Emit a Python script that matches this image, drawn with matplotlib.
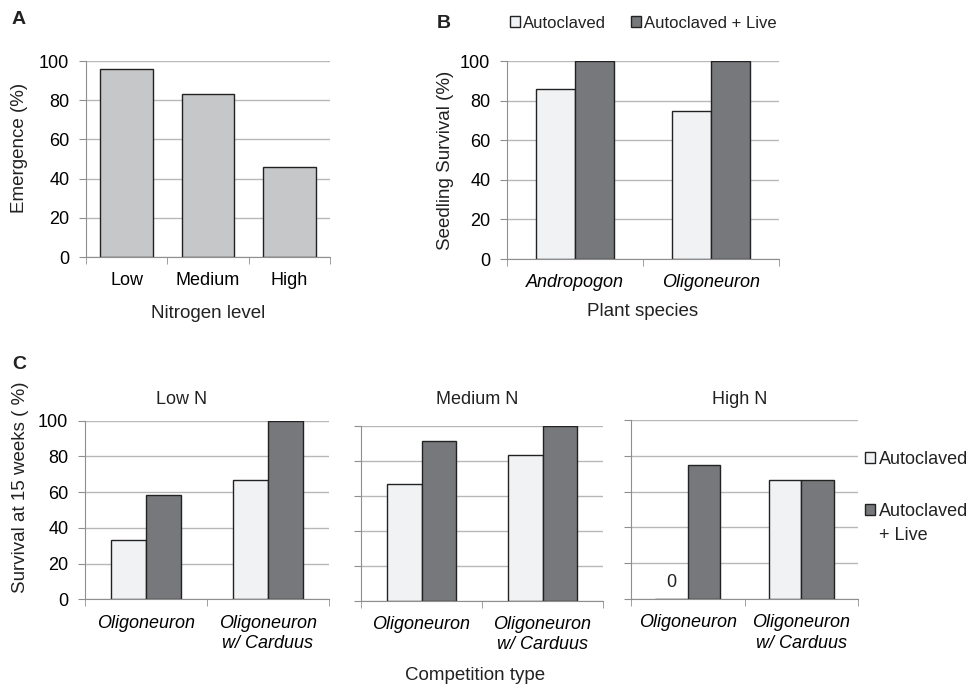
import matplotlib.pyplot as plt
from matplotlib.patches import Patch
import numpy as np

plt.rcParams['font.family'] = ['Liberation Sans', 'DejaVu Sans']
plt.rcParams['text.color'] = '#222222'

# panel A
nitrogen = ['Low', 'Medium', 'High']
emergence = [96, 83.3, 46]

# panel B
species = ['Andropogon', 'Oligoneuron']
surv_auto = [86, 75]
surv_live = [100, 100]

# panel C
competition = ['Oligoneuron', 'Oligoneuron\nw/ Carduus']
levels = ['Low N', 'Medium N', 'High N']
c_auto = {'Low N': [33.3, 66.7], 'Medium N': [66.7, 83.3], 'High N': [0, 66.7]}
c_live = {'Low N': [58.3, 100], 'Medium N': [91.7, 100], 'High N': [75, 66.7]}

LIGHT = '#f1f2f4'
DARK = '#77787b'
MID = '#c6c7c9'
EDGE = '#222222'
GRID = '#b8b8b8'
SPINE = '#8f8f8f'

TICK = 13
LAB = 13.5

W, H = 969, 688
fig = plt.figure(figsize=(W / 100, H / 100), dpi=100)


def px_axes(left, right, top, bottom):
    return fig.add_axes([left / W, 1 - bottom / H, (right - left) / W, (bottom - top) / H])


def style(ax, n, labels=True):
    ax.set_ylim(0, 100)
    ax.set_xlim(-0.5, n - 0.5)
    ax.set_yticks(np.arange(0, 101, 20))
    ax.yaxis.grid(True, color=GRID, lw=1)
    ax.set_axisbelow(True)
    for s in ['top', 'right']:
        ax.spines[s].set_visible(False)
    for s in ['left', 'bottom']:
        ax.spines[s].set_color(SPINE)
    ax.tick_params(axis='y', length=5, color=SPINE, labelsize=TICK, pad=7)
    if not labels:
        ax.set_yticklabels([])
    ax.set_xticks(np.arange(n))
    ax.set_xticks(np.arange(n + 1) - 0.5, minor=True)
    ax.tick_params(axis='x', which='major', length=0, labelsize=TICK, pad=11)
    ax.tick_params(axis='x', which='minor', length=5, color=SPINE)


# A
axA = px_axes(86, 330, 61, 257)
axA.bar(np.arange(3), emergence, width=0.65, color=MID, edgecolor=EDGE, lw=1)
style(axA, 3)
axA.set_xticklabels(nitrogen)
fig.text(20 / W, 1 - 148 / H, 'Emergence (%)', rotation=90, ha='center', va='center', fontsize=LAB)
fig.text(208 / W, 1 - 314 / H, 'Nitrogen level', ha='center', va='center', fontsize=LAB)
fig.text(12 / W, 1 - 20 / H, 'A', fontweight='bold', fontsize=14, ha='left', va='center')

# B
bw = 0.285
axB = px_axes(507, 779, 61, 259)
x = np.arange(2)
axB.bar(x - bw / 2, surv_auto, width=bw, color=LIGHT, edgecolor=EDGE, lw=1)
axB.bar(x + bw / 2, surv_live, width=bw, color=DARK, edgecolor=EDGE, lw=1)
style(axB, 2)
axB.set_xticklabels(species)
for t in axB.get_xticklabels():
    t.set_fontstyle('italic')
fig.text(446 / W, 1 - 160 / H, 'Seedling Survival (%)', rotation=90, ha='center', va='center', fontsize=LAB)
fig.text(643 / W, 1 - 311 / H, 'Plant species', ha='center', va='center', fontsize=LAB)
fig.text(437 / W, 1 - 23 / H, 'B', fontweight='bold', fontsize=14, ha='left', va='center')

handles = [Patch(facecolor=LIGHT, edgecolor=EDGE, lw=1), Patch(facecolor=DARK, edgecolor=EDGE, lw=1)]
fig.legend(handles, ['Autoclaved', 'Autoclaved + Live'], loc='center left',
           bbox_to_anchor=(510 / W, 1 - 23 / H), ncol=2, frameon=False, fontsize=12,
           handlelength=0.58, handleheight=0.58, handletextpad=0.2, columnspacing=1.5,
           borderaxespad=0, borderpad=0)

# C
boxes = {'Low N': (85, 329, 420.7, 599.3),
         'Medium N': (361, 603, 426, 600.7),
         'High N': (631, 858, 420, 599)}
title_x = {'Low N': 182, 'Medium N': 477, 'High N': 740}
for i, lev in enumerate(levels):
    ax = px_axes(*boxes[lev])
    ax.bar(x - bw / 2, c_auto[lev], width=bw, color=LIGHT, edgecolor=EDGE, lw=1)
    ax.bar(x + bw / 2, c_live[lev], width=bw, color=DARK, edgecolor=EDGE, lw=1)
    style(ax, 2, labels=(i == 0))
    ax.set_xticklabels(competition, linespacing=1.25)
    for t in ax.get_xticklabels():
        t.set_fontstyle('italic')
    fig.text(title_x[lev] / W, 1 - 400 / H, lev, ha='center', va='center', fontsize=TICK)
    for xi, v in zip(x - bw / 2, c_auto[lev]):
        if v == 0:
            ax.annotate('0', (xi, v), xytext=(0, 12), textcoords='offset points',
                        ha='center', va='center', fontsize=TICK)

fig.text(21 / W, 1 - 487 / H, 'Survival at 15 weeks ( %)', rotation=90, ha='center', va='center', fontsize=LAB)
fig.text(475 / W, 1 - 675 / H, 'Competition type', ha='center', va='center', fontsize=LAB)
fig.text(12 / W, 1 - 364 / H, 'C', fontweight='bold', fontsize=14, ha='left', va='center')

fig.legend(handles, ['Autoclaved', 'Autoclaved'], loc='upper left',
           bbox_to_anchor=(865 / W, 1 - 451 / H), ncol=1, frameon=False, fontsize=13,
           handlelength=0.55, handleheight=0.55, handletextpad=0.25, labelspacing=1.95,
           borderaxespad=0, borderpad=0)
fig.text(879 / W, 1 - 536 / H, '+ Live', ha='left', va='center', fontsize=13)

fig.savefig('out.png', dpi=100)
